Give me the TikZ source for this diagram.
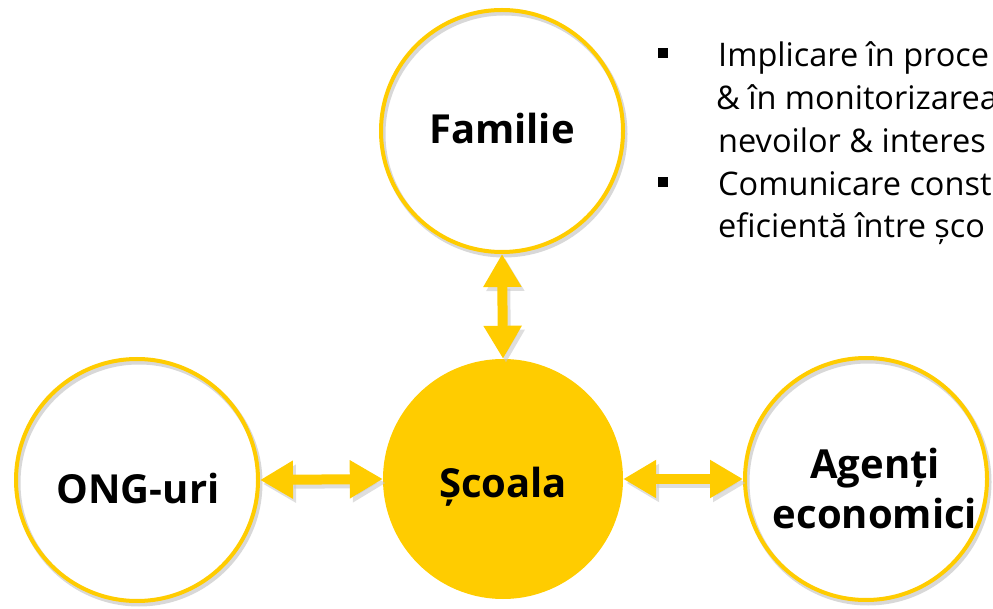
\documentclass[tikz,border=0pt]{standalone}
\usepackage{fontspec}
\setmainfont{Open Sans}
\usetikzlibrary{arrows.meta}
\definecolor{gold}{HTML}{FFCC00}
\definecolor{shadowgray}{HTML}{C8C8C8}
\tikzset{
  ring/.style={circle, draw=gold, line width=4pt, minimum size=242pt, inner sep=0pt},
  hub/.style={circle, fill=gold, minimum size=240pt, inner sep=0pt},
  lbl/.style={font=\bfseries\fontsize{40}{48}\selectfont, anchor=base, inner sep=0pt},
  body/.style={font=\fontsize{32.5}{43}\selectfont, anchor=base west, inner sep=0pt},
  biarrow/.style={draw=gold, line width=10pt,
    {Triangle[width=36pt,length=33pt]}-{Triangle[width=36pt,length=33pt]}},
  arrowshadow/.style={biarrow, draw=shadowgray, opacity=0.6, transform canvas={shift={(3pt,-4pt)}}},
  ringshadow/.style={draw=shadowgray, line width=5pt, opacity=0.7},
}
\begin{document}
\begin{tikzpicture}[x=1pt,y=-1pt]
\useasboundingbox (0,0) rectangle (993,609);
% white discs with soft shadow rings
\foreach \cx/\cy in {502/131, 137/480, 866/479} {
  \fill[white] (\cx,\cy) circle (122pt);
  \draw[ringshadow] (\cx+2,\cy+3) circle (121pt);
}
\node[ring] (fam) at (502,131) {};
\node[ring] (ong) at (137,480) {};
\node[ring] (ag) at (866,479) {};
\node[hub] (sch) at (503,479) {};
% labels
\node[lbl] (tfam) at (502,144) {Familie};
\node[lbl] (tong) at (138,503) {ONG-uri};
\node[lbl] (tsch) at (503,497) {Școala};
\node[lbl] (tag1) at (875,478) {Agenți};
\node[lbl] (tag2) at (875,528) {economici};
% connectors
\draw[arrowshadow] (fam.south) -- (sch.north);
\draw[arrowshadow] (ong.east) -- (sch.west);
\draw[arrowshadow] (sch.east) -- (ag.west);
\draw[biarrow] (fam.south) -- (sch.north);
\draw[biarrow] (ong.east) -- (sch.west);
\draw[biarrow] (sch.east) -- (ag.west);
% bullet list (cut at the right edge)
\fill (658,48) rectangle (668,58);
\fill (658,177) rectangle (668,187);
\node[body] (l1) at (718,67) {Implicare în proce};
\node[body] (l2) at (716,110) {\& în monitorizarea};
\node[body] (l3) at (718,153) {nevoilor \& interes};
\node[body] (l4) at (718,196) {Comunicare consta};
\node[body] (l5) at (718,238) {eficientă între șco};
\end{tikzpicture}
\end{document}
